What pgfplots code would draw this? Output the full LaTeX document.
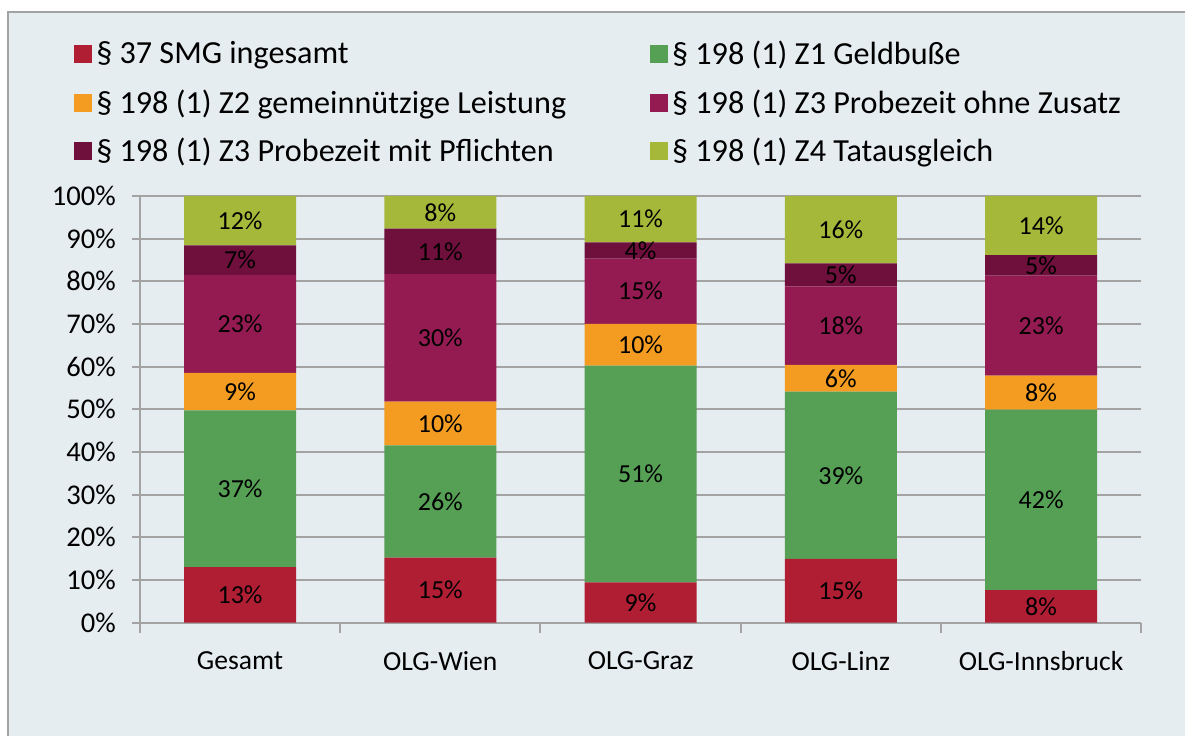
\documentclass[border=0pt]{standalone}
\usepackage{pgfplots}
\pgfplotsset{compat=1.18}
\usepackage{pgfplotstable}
\usepackage{fontspec}
\setmainfont{Carlito}

\definecolor{bg}{HTML}{E6EDF1}
\definecolor{frame}{HTML}{A3A3A3}
\definecolor{cRed}{HTML}{B01E34}
\definecolor{cGreen}{HTML}{55A055}
\definecolor{cOrange}{HTML}{F39C21}
\definecolor{cPurple}{HTML}{941B52}
\definecolor{cDark}{HTML}{6E0F3C}
\definecolor{cLime}{HTML}{A5B83A}

% shares in percent, columns = stacked segments from bottom to top
\pgfplotstableread{
x red  green orange purple dark lime
0 13.0 36.7  8.8    23.0   6.9  11.6
1 15.2 26.3  10.3   29.9   10.6 7.7
2 9.4  50.8  9.8    15.3   3.8  10.9
3 14.9 39.2  6.3    18.4   5.4  15.8
4 7.6  42.3  8.0    23.4   4.8  13.9
}\shares

\pgfplotsset{
  sqlegend/.style={legend image code/.code={\path[##1] (0pt,-4.5pt) rectangle (9pt,4.5pt);}},
  common/.style={scale only axis, width=501pt, height=213.5pt,
    xmin=-0.5, xmax=4.5, ymin=0, ymax=100},
}

\begin{document}
\begin{tikzpicture}
\fill[white] (-70pt,-56.5pt) rectangle (523pt,311.5pt);
\fill[bg] (-66pt,-56.5pt) rectangle (523pt,305.5pt);
\draw[frame, line width=0.8pt] (-66pt,-56.5pt) -- (-66pt,305.5pt) -- (523pt,305.5pt);

\begin{axis}[
    common,
    ybar stacked,
    bar width=56pt,
    xtick={0,...,4},
    xticklabels={Gesamt, OLG-Wien, OLG-Graz, OLG-Linz, OLG-Innsbruck},
    minor xtick={-0.5,0.5,...,4.5},
    ytick={0,10,...,100},
    yticklabel={\pgfmathprintnumber{\tick}\%},
    /pgf/number format/assume math mode=true,
    axis x line*=bottom,
    axis y line*=left,
    axis line style={frame, line width=1pt},
    tick align=outside,
    tick style={frame, line width=1pt},
    major x tick style={draw=none},
    major tick length=4pt,
    minor tick length=5pt,
    ymajorgrids=true,
    grid style={frame, line width=1pt},
    yticklabel style={font=\fontsize{14.3}{16}\selectfont, xshift=-4.5pt},
    xticklabel style={font=\fontsize{13.8}{16}\selectfont, yshift=-7pt},
    legend columns=2,
    legend cell align=left,
    legend style={at={(-0.0659,1.373)}, anchor=north west, draw=none, fill=none,
        inner sep=0pt, font=\fontsize{16.1}{19}\selectfont, row sep=7pt,
        /tikz/every even column/.append style={column sep=40pt}},
]
\addplot[fill=cRed, draw=none, sqlegend] table[x=x, y=red] {\shares};
\addlegendentry{§ 37 SMG ingesamt}
\addplot[fill=cGreen, draw=none, sqlegend] table[x=x, y=green] {\shares};
\addlegendentry{§ 198 (1) Z1 Geldbuße}
\addplot[fill=cOrange, draw=none, sqlegend] table[x=x, y=orange] {\shares};
\addlegendentry{§ 198 (1) Z2 gemeinnützige Leistung}
\addplot[fill=cPurple, draw=none, sqlegend] table[x=x, y=purple] {\shares};
\addlegendentry{§ 198 (1) Z3 Probezeit ohne Zusatz}
\addplot[fill=cDark, draw=none, sqlegend] table[x=x, y=dark] {\shares};
\addlegendentry{§ 198 (1) Z3 Probezeit mit Pflichten}
\addplot[fill=cLime, draw=none, sqlegend] table[x=x, y=lime] {\shares};
\addlegendentry{§ 198 (1) Z4 Tatausgleich}
\end{axis}

% segment labels, centred in each segment
\begin{axis}[
    common,
    hide axis,
    point meta=explicit,
    /pgf/number format/assume math mode=true,
    nodes near coords={\pgfmathprintnumber[fixed,precision=0]{\pgfplotspointmeta}\%},
    every node near coord/.append style={anchor=center, text=black, font=\fontsize{13}{15}\selectfont},
]
\addplot[only marks, mark=*, mark size=0pt, mark options={draw=none, fill=none}]
    table[x=x, y expr=\thisrow{red}/2, meta=red] {\shares};
\addplot[only marks, mark=*, mark size=0pt, mark options={draw=none, fill=none}]
    table[x=x, y expr=\thisrow{red}+\thisrow{green}/2, meta=green] {\shares};
\addplot[only marks, mark=*, mark size=0pt, mark options={draw=none, fill=none}]
    table[x=x, y expr=\thisrow{red}+\thisrow{green}+\thisrow{orange}/2, meta=orange] {\shares};
\addplot[only marks, mark=*, mark size=0pt, mark options={draw=none, fill=none}]
    table[x=x, y expr=\thisrow{red}+\thisrow{green}+\thisrow{orange}+\thisrow{purple}/2, meta=purple] {\shares};
\addplot[only marks, mark=*, mark size=0pt, mark options={draw=none, fill=none}]
    table[x=x, y expr=\thisrow{red}+\thisrow{green}+\thisrow{orange}+\thisrow{purple}+\thisrow{dark}/2, meta=dark] {\shares};
\addplot[only marks, mark=*, mark size=0pt, mark options={draw=none, fill=none}]
    table[x=x, y expr=100-\thisrow{lime}/2, meta=lime] {\shares};
\end{axis}
\end{tikzpicture}
\end{document}
